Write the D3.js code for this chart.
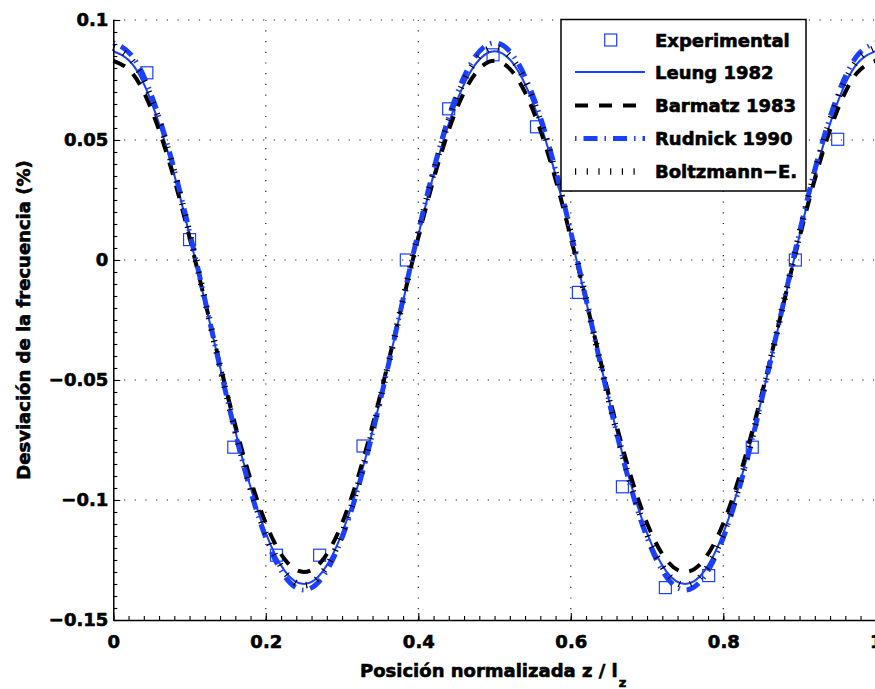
<!DOCTYPE html>
<html>
<head>
<meta charset="utf-8">
<script src="https://cdn.jsdelivr.net/npm/d3@7/dist/d3.min.js"></script>
<style>
  html, body { margin: 0; padding: 0; background: #fff; }
  svg { display: block; font-family: "DejaVu Sans", sans-serif; font-weight: bold; }
  svg text { stroke: #000; stroke-width: 0.6px; paint-order: stroke; }
</style>
</head>
<body>
<svg id="chart" width="875" height="689"></svg>
<script>
// Normalized position along the resonator, sampled every 0.025
const zPos = [0, 0.025, 0.05, 0.075, 0.1, 0.125, 0.15, 0.175, 0.2, 0.225, 0.25,
  0.275, 0.3, 0.325, 0.35, 0.375, 0.4, 0.425, 0.45, 0.475, 0.5,
  0.525, 0.55, 0.575, 0.6, 0.625, 0.65, 0.675, 0.7, 0.725, 0.75,
  0.775, 0.8, 0.825, 0.85, 0.875, 0.9, 0.925, 0.95, 0.975, 1];

// Model curves: frequency deviation (%)
const leung1982 = [0.087, 0.0816, 0.0658, 0.0412, 0.0103, -0.024, -0.0583, -0.0892, -0.1138, -0.1296, -0.135,
  -0.1296, -0.1138, -0.0892, -0.0583, -0.024, 0.0103, 0.0412, 0.0658, 0.0816, 0.087,
  0.0816, 0.0658, 0.0412, 0.0103, -0.024, -0.0583, -0.0892, -0.1138, -0.1296, -0.135,
  -0.1296, -0.1138, -0.0892, -0.0583, -0.024, 0.0103, 0.0412, 0.0658, 0.0816, 0.087];

const barmatz1983 = [0.083, 0.0778, 0.0627, 0.0391, 0.0094, -0.0235, -0.0564, -0.0861, -0.1097, -0.1248, -0.130,
  -0.1248, -0.1097, -0.0861, -0.0564, -0.0235, 0.0094, 0.0391, 0.0627, 0.0778, 0.083,
  0.0778, 0.0627, 0.0391, 0.0094, -0.0235, -0.0564, -0.0861, -0.1097, -0.1248, -0.130,
  -0.1248, -0.1097, -0.0861, -0.0564, -0.0235, 0.0094, 0.0391, 0.0627, 0.0778, 0.083];

const rudnick1990 = [0.0905, 0.0849, 0.0687, 0.0435, 0.0117, -0.0235, -0.0587, -0.0905, -0.1157, -0.1319, -0.1375,
  -0.1319, -0.1157, -0.0905, -0.0587, -0.0235, 0.0117, 0.0435, 0.0687, 0.0849, 0.0905,
  0.0849, 0.0687, 0.0435, 0.0117, -0.0235, -0.0587, -0.0905, -0.1157, -0.1319, -0.1375,
  -0.1319, -0.1157, -0.0905, -0.0587, -0.0235, 0.0117, 0.0435, 0.0687, 0.0849, 0.0905];

const boltzmannE = [0.0885, 0.083, 0.0671, 0.0423, 0.0111, -0.0235, -0.0581, -0.0893, -0.1141, -0.130, -0.1355,
  -0.130, -0.1141, -0.0893, -0.0581, -0.0235, 0.0111, 0.0423, 0.0671, 0.083, 0.0885,
  0.083, 0.0671, 0.0423, 0.0111, -0.0235, -0.0581, -0.0893, -0.1141, -0.130, -0.1355,
  -0.130, -0.1141, -0.0893, -0.0581, -0.0235, 0.0111, 0.0423, 0.0671, 0.083, 0.0885];

// Measured points
const expZ = [0.044, 0.100, 0.158, 0.214, 0.2706, 0.3275, 0.3843, 0.4398, 0.498,
  0.555, 0.610, 0.6677, 0.724, 0.7808, 0.838, 0.8945, 0.950];
const expDev = [0.078, 0.0085, -0.078, -0.123, -0.123, -0.0775, 0.0, 0.063, 0.0855,
  0.0555, -0.0135, -0.0945, -0.1365, -0.1315, -0.078, 0.0, 0.0503];

// Axis ticks
const xTickVals = [0, 0.2, 0.4, 0.6, 0.8, 1];
const xTickLabels = ["0", "0.2", "0.4", "0.6", "0.8", "1"];
const yTickVals = [-0.15, -0.1, -0.05, 0, 0.05, 0.1];
const yTickLabels = ["\u22120.15", "\u22120.1", "\u22120.05", "0", "0.05", "0.1"];

const legendNames = ["Experimental", "Leung 1982", "Barmatz 1983", "Rudnick 1990", "Boltzmann\u2212E."];

(function () {
  const BLUE = "#1a40ff";

  const svg = d3.select("#chart");
  const mLeft = 113.3, mRight = 875.8, mTop = 20, mBottom = 620;

  const x = d3.scaleLinear().domain([0, 1]).range([mLeft, mRight]);
  const y = d3.scaleLinear().domain([-0.15, 0.1]).range([mBottom, mTop]);

  svg.append("rect").attr("width", 875).attr("height", 689).attr("fill", "#fff");

  // Dotted grid
  const grid = svg.append("g")
    .attr("stroke", "#222").attr("stroke-width", 1.2).attr("stroke-dasharray", "1.2,9.5");
  grid.selectAll("line.gx").data(xTickVals.filter(v => v > 0)).join("line")
    .attr("class", "gx")
    .attr("x1", d => x(d)).attr("x2", d => x(d))
    .attr("y1", y(-0.15)).attr("y2", y(0.1));
  grid.selectAll("line.gy").data(yTickVals.filter(v => v > -0.15)).join("line")
    .attr("class", "gy")
    .attr("x1", x(0)).attr("x2", x(1))
    .attr("y1", d => y(d)).attr("y2", d => y(d));

  // Experimental squares
  const sq = 12;
  svg.append("g").selectAll("rect").data(expZ).join("rect")
    .attr("x", d => x(d) - sq / 2)
    .attr("y", (d, i) => y(expDev[i]) - sq / 2)
    .attr("width", sq).attr("height", sq)
    .attr("fill", "none").attr("stroke", BLUE).attr("stroke-width", 1.2);

  // Model curves
  const line = d3.line().x(d => x(d[0])).y(d => y(d[1])).curve(d3.curveNatural);
  const series = [
    { vals: leung1982, color: BLUE, width: 2, dash: null },
    { vals: barmatz1983, color: "#000", width: 4, dash: "13,11" },
    { vals: rudnick1990, color: BLUE, width: 5, dash: "1.5,7,14,7" },
    { vals: boltzmannE, color: "#000", width: 6.5, dash: "1.2,10.5" }
  ];
  series.forEach(s => {
    svg.append("path")
      .datum(zPos.map((z, i) => [z, s.vals[i]]))
      .attr("d", line)
      .attr("fill", "none")
      .attr("stroke", s.color)
      .attr("stroke-width", s.width)
      .attr("stroke-dasharray", s.dash);
  });

  // Axes: minor ticks first, then major ticks with labels
  const xMinor = d3.range(0, 51).map(i => i / 50);
  const yMinor = d3.range(0, 51).map(i => -0.15 + i * 0.005);

  svg.append("g").attr("transform", `translate(0,${mBottom})`)
    .call(d3.axisBottom(x).tickValues(xMinor).tickSize(-4).tickSizeOuter(0).tickFormat(""))
    .call(g => g.select(".domain").remove());
  svg.append("g").attr("transform", `translate(${mLeft},0)`)
    .call(d3.axisLeft(y).tickValues(yMinor).tickSize(-4).tickSizeOuter(0).tickFormat(""))
    .call(g => g.select(".domain").remove());

  const xAxis = svg.append("g").attr("transform", `translate(0,${mBottom})`)
    .call(d3.axisBottom(x).tickValues(xTickVals).tickSize(-7).tickSizeOuter(0).tickPadding(15)
      .tickFormat((d, i) => xTickLabels[i]));
  const yAxis = svg.append("g").attr("transform", `translate(${mLeft},0)`)
    .call(d3.axisLeft(y).tickValues(yTickVals).tickSize(-7).tickSizeOuter(0).tickPadding(5)
      .tickFormat((d, i) => yTickLabels[i]));

  [xAxis, yAxis].forEach(g => {
    g.selectAll("path.domain").attr("stroke-width", 1.5);
    g.selectAll("text")
      .attr("font-family", "DejaVu Sans, sans-serif")
      .attr("font-weight", "bold")
      .attr("font-size", 18)
      .attr("fill", "#000");
  });
  svg.selectAll(".tick line").attr("stroke", "#000").attr("stroke-width", 1.1);

  // Axis titles
  const xt = svg.append("text")
    .attr("x", 360).attr("y", 677)
    .attr("font-size", 18).attr("fill", "#000")
    .text("Posición normalizada z / l");
  const xtBox = xt.node().getBBox();
  svg.append("text")
    .attr("x", xtBox.x + xtBox.width + 1).attr("y", 687)
    .attr("font-size", 13).attr("fill", "#000")
    .text("z");

  svg.append("text")
    .attr("transform", `translate(30,${(mTop + mBottom) / 2}) rotate(-90)`)
    .attr("text-anchor", "middle")
    .attr("font-size", 18).attr("fill", "#000")
    .text("Desviación de la frecuencia (%)");

  // Legend
  const lg = svg.append("g");
  lg.append("rect")
    .attr("x", 561).attr("y", 19.5).attr("width", 245).attr("height", 171.5)
    .attr("fill", "#fff").attr("stroke", "#000").attr("stroke-width", 1.5);
  const rowY = [40, 72, 105.5, 138.5, 171.5];
  legendNames.forEach((name, i) => {
    const ry = rowY[i];
    if (i === 0) {
      lg.append("rect").attr("x", 610.7 - sq / 2).attr("y", ry - sq / 2)
        .attr("width", sq).attr("height", sq)
        .attr("fill", "none").attr("stroke", BLUE).attr("stroke-width", 1.2);
    } else {
      const s = series[i - 1];
      lg.append("line").attr("x1", 575).attr("x2", 645).attr("y1", ry).attr("y2", ry)
        .attr("stroke", s.color).attr("stroke-width", s.width)
        .attr("stroke-dasharray", s.dash);
    }
    lg.append("text").attr("x", 655).attr("y", ry + 6.5)
      .attr("font-size", 18).attr("fill", "#000").text(name);
  });
})();
</script>
</body>
</html>
